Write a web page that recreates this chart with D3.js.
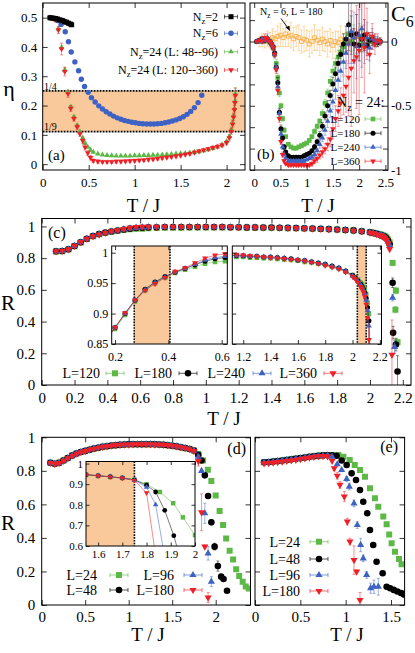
<!DOCTYPE html>
<html><head><meta charset="utf-8">
<script src="https://cdn.jsdelivr.net/npm/d3@7"></script>
<style>body{margin:0;background:#fff}</style>
</head><body><script>
// ---------------- DATA ----------------
// Panel (a): eta vs T/J
const aT2 = [0.08,0.1,0.12,0.14,0.16,0.18,0.2,0.22,0.24,0.26,0.28,0.3,0.315];
const aEta2 = [0.5,0.499,0.498,0.497,0.495,0.493,0.491,0.489,0.486,0.484,0.481,0.478,0.476];
const aT6 = [0.08,0.12,0.16,0.2,0.245,0.28,0.31,0.35,0.39,0.42,0.455,0.495,0.53,0.57,0.61,0.65,0.69,0.73,0.77,0.81,0.85,0.89,0.93,0.97,1.01,1.05,1.09,1.13,1.17,1.21,1.25,1.29,1.33,1.37,1.41,1.45,1.49,1.53,1.57,1.61,1.65,1.69,1.73];
const aEta6 = [0.5,0.497,0.49,0.477,0.452,0.418,0.383,0.349,0.319,0.29,0.265,0.245,0.227,0.212,0.199,0.188,0.179,0.171,0.164,0.158,0.153,0.149,0.146,0.143,0.141,0.139,0.138,0.137,0.137,0.137,0.138,0.139,0.141,0.144,0.147,0.151,0.156,0.162,0.17,0.18,0.193,0.21,0.235];
const aT24 = [0.08,0.13,0.17,0.205,0.24,0.275,0.305,0.34,0.375,0.405,0.435,0.46,0.49,0.52,0.55,0.6,0.65,0.7,0.75,0.8,0.85,0.9,0.95,1.0,1.05,1.1,1.15,1.2,1.25,1.3,1.35,1.4,1.45,1.5,1.55,1.6,1.65,1.7,1.75,1.8,1.85,1.9,1.95,2.0,2.03,2.05,2.065,2.075,2.085,2.09,2.095];
const aEtaG = [0.5,0.494,0.462,0.398,0.322,0.247,0.196,0.162,0.133,0.111,0.09,0.072,0.058,0.048,0.041,0.035,0.032,0.03,0.029,0.028,0.028,0.028,0.028,0.029,0.029,0.03,0.03,0.031,0.031,0.032,0.033,0.034,0.035,0.036,0.037,0.039,0.041,0.043,0.046,0.05,0.054,0.059,0.066,0.078,0.095,0.118,0.142,0.165,0.19,0.215,0.24];
const aErrG = [0.002,0.003,0.005,0.006,0.006,0.005,0.004,0.004,0.004,0.004,0.004,0.004,0.003,0.003,0.003,0.002,0.002,0.002,0.002,0.002,0.002,0.002,0.002,0.002,0.002,0.002,0.002,0.002,0.002,0.002,0.002,0.002,0.002,0.002,0.002,0.002,0.002,0.002,0.002,0.002,0.002,0.002,0.002,0.003,0.006,0.008,0.01,0.01,0.012,0.015,0.02];
const aEtaR = [0.5,0.494,0.458,0.393,0.316,0.24,0.19,0.155,0.127,0.103,0.08,0.058,0.038,0.022,0.012,0.009,0.008,0.008,0.008,0.009,0.009,0.01,0.011,0.012,0.013,0.014,0.016,0.017,0.019,0.021,0.023,0.025,0.027,0.03,0.033,0.036,0.04,0.044,0.048,0.052,0.056,0.06,0.065,0.073,0.09,0.112,0.136,0.16,0.185,0.21,0.235];
const aErrR = [0.003,0.005,0.012,0.02,0.015,0.012,0.01,0.008,0.008,0.008,0.01,0.01,0.008,0.008,0.006,0.006,0.005,0.005,0.005,0.005,0.005,0.005,0.005,0.005,0.005,0.005,0.005,0.005,0.005,0.005,0.005,0.005,0.005,0.005,0.005,0.005,0.005,0.005,0.005,0.005,0.006,0.006,0.006,0.007,0.008,0.01,0.012,0.012,0.015,0.02,0.025];
const aBand = [1/9, 1/4];

// Panel (b): C6 vs T/J
const bT = [0.05,0.1,0.15,0.2,0.25,0.3,0.33,0.36,0.39,0.42,0.45,0.48,0.51,0.54,0.57,0.6,0.65,0.7,0.75,0.8,0.85,0.9,0.95,1.0,1.05,1.1,1.15,1.2,1.25,1.3,1.35,1.4,1.45,1.5,1.55,1.6,1.65,1.7,1.75,1.8,1.85,1.9,1.95,2.0,2.05,2.1,2.15,2.2,2.25,2.3,2.35,2.4];
const bC120 = [0.0,0.01,0.0,0.02,0.01,-0.01,-0.02,-0.05,-0.1,-0.17,-0.28,-0.4,-0.5,-0.6,-0.69,-0.74,-0.8,-0.82,-0.83,-0.83,-0.82,-0.81,-0.8,-0.79,-0.77,-0.74,-0.7,-0.66,-0.62,-0.56,-0.48,-0.4,-0.31,-0.23,-0.17,-0.12,-0.08,-0.04,-0.01,0.06,0.0,0.03,-0.02,0.04,0.01,-0.02,0.02,0.0,0.01,-0.01,0.0,0.0];
const bE120 = [0.01,0.01,0.01,0.02,0.02,0.01,0.01,0.02,0.02,0.03,0.03,0.03,0.02,0.02,0.02,0.01,0.01,0.01,0.01,0.01,0.01,0.01,0.01,0.01,0.01,0.01,0.02,0.02,0.02,0.03,0.03,0.03,0.04,0.04,0.04,0.05,0.05,0.06,0.07,0.1,0.08,0.1,0.08,0.1,0.07,0.06,0.06,0.05,0.04,0.03,0.03,0.02];
const bC180 = [0.0,0.01,0.02,0.01,0.02,0.0,-0.02,-0.04,-0.09,-0.2,-0.32,-0.55,-0.68,-0.75,-0.82,-0.86,-0.89,-0.9,-0.9,-0.9,-0.9,-0.9,-0.89,-0.88,-0.87,-0.85,-0.82,-0.78,-0.73,-0.66,-0.58,-0.5,-0.42,-0.33,-0.25,-0.17,-0.1,-0.02,0.02,0.13,0.05,-0.02,0.06,-0.03,0.02,0.05,-0.03,0.01,0.02,0.0,-0.01,0.0];
const bE180 = [0.01,0.01,0.02,0.02,0.02,0.01,0.01,0.02,0.03,0.03,0.04,0.03,0.03,0.02,0.02,0.01,0.01,0.01,0.01,0.01,0.01,0.01,0.01,0.01,0.01,0.01,0.02,0.02,0.03,0.03,0.03,0.04,0.04,0.05,0.05,0.06,0.06,0.08,0.1,0.2,0.15,0.12,0.15,0.12,0.1,0.12,0.08,0.06,0.05,0.04,0.03,0.02];
const bC240 = [0.0,0.0,0.02,0.01,0.03,0.0,-0.02,-0.04,-0.1,-0.2,-0.35,-0.56,-0.72,-0.82,-0.88,-0.91,-0.93,-0.93,-0.93,-0.93,-0.93,-0.93,-0.93,-0.92,-0.91,-0.9,-0.88,-0.85,-0.8,-0.75,-0.69,-0.62,-0.54,-0.47,-0.38,-0.3,-0.23,-0.16,-0.09,-0.02,0.08,0.03,-0.04,0.05,0.1,-0.02,0.03,-0.05,0.02,0.01,0.0,0.0];
const bE240 = [0.01,0.01,0.02,0.02,0.03,0.01,0.01,0.02,0.03,0.03,0.04,0.03,0.03,0.02,0.02,0.01,0.01,0.01,0.01,0.01,0.01,0.01,0.01,0.01,0.01,0.02,0.02,0.02,0.03,0.03,0.04,0.05,0.05,0.06,0.07,0.08,0.08,0.1,0.12,0.15,0.25,0.2,0.25,0.2,0.3,0.15,0.12,0.1,0.08,0.05,0.04,0.03];
const bC360 = [0.0,0.01,0.0,0.03,0.02,0.0,-0.02,-0.05,-0.1,-0.22,-0.38,-0.6,-0.78,-0.88,-0.93,-0.95,-0.96,-0.96,-0.96,-0.96,-0.96,-0.96,-0.96,-0.96,-0.96,-0.95,-0.93,-0.91,-0.885,-0.86,-0.835,-0.8,-0.76,-0.68,-0.6,-0.54,-0.48,-0.42,-0.35,-0.28,-0.21,-0.15,-0.12,-0.07,0.02,-0.05,0.06,-0.1,0.04,-0.02,0.01,0.0];
const bE360 = [0.01,0.01,0.01,0.03,0.02,0.01,0.01,0.02,0.02,0.03,0.03,0.03,0.02,0.02,0.01,0.01,0.01,0.01,0.01,0.01,0.01,0.01,0.01,0.01,0.01,0.02,0.02,0.03,0.03,0.04,0.04,0.05,0.06,0.08,0.1,0.12,0.12,0.15,0.2,0.3,0.45,0.25,0.4,0.5,0.3,0.35,0.2,0.15,0.1,0.08,0.05,0.03];
const bT6 = [0.1,0.15,0.2,0.25,0.3,0.35,0.4,0.45,0.5,0.55,0.6,0.65,0.7,0.75,0.8,0.85,0.9,0.95,1.0,1.05,1.1,1.15,1.2,1.25,1.3,1.35,1.4,1.45,1.5,1.55,1.6,1.65,1.7,1.75];
const bC6 = [0.0,0.01,0.0,0.02,0.01,0.03,0.02,0.04,0.05,0.03,0.06,0.04,0.05,0.02,0.04,0.03,0.0,0.02,0.01,-0.02,0.0,0.03,0.01,-0.01,0.02,0.0,-0.02,0.01,-0.03,0.0,-0.01,0.02,-0.02,0.0];
const bE6 = [0.04,0.05,0.05,0.06,0.06,0.07,0.06,0.08,0.09,0.07,0.1,0.08,0.1,0.09,0.08,0.1,0.09,0.1,0.08,0.1,0.09,0.1,0.08,0.1,0.09,0.08,0.1,0.09,0.1,0.08,0.09,0.1,0.08,0.07];

// Panel (c): R vs T/J, Nz=24
const cT = [0.0875,0.125,0.1625,0.2,0.2375,0.275,0.3125,0.35,0.3875,0.425,0.4625,0.5,0.5375,0.575,0.6125,0.65,0.7,0.75,0.8,0.85,0.9,0.95,1.0,1.05,1.1,1.15,1.2,1.25,1.3,1.35,1.4,1.45,1.5,1.55,1.6,1.65,1.7,1.75,1.8,1.85,1.9,1.95,2.0,2.02,2.04,2.06,2.07,2.08,2.09,2.1,2.11,2.12];
const cR120 = [0.842,0.844,0.855,0.875,0.898,0.92,0.938,0.95,0.959,0.967,0.972,0.977,0.982,0.985,0.986,0.988,0.99,0.991,0.992,0.992,0.993,0.993,0.993,0.993,0.993,0.993,0.993,0.992,0.992,0.991,0.991,0.99,0.989,0.988,0.987,0.985,0.984,0.982,0.98,0.977,0.974,0.969,0.963,0.96,0.956,0.951,0.948,0.944,0.94,0.932,0.918,0.9];
const cR180 = [0.843,0.845,0.856,0.877,0.9,0.922,0.94,0.952,0.961,0.968,0.974,0.98,0.986,0.99,0.992,0.994,0.995,0.996,0.996,0.996,0.996,0.996,0.996,0.996,0.996,0.995,0.995,0.994,0.994,0.993,0.993,0.992,0.991,0.99,0.988,0.987,0.985,0.983,0.981,0.978,0.975,0.97,0.963,0.959,0.954,0.948,0.944,0.94,0.934,0.925,0.91,0.888];
const cR240 = [0.843,0.845,0.856,0.877,0.9,0.922,0.939,0.951,0.96,0.968,0.974,0.981,0.988,0.992,0.994,0.995,0.996,0.996,0.996,0.996,0.996,0.996,0.996,0.996,0.996,0.995,0.995,0.994,0.994,0.993,0.993,0.992,0.991,0.99,0.988,0.987,0.985,0.983,0.981,0.978,0.975,0.97,0.962,0.958,0.953,0.947,0.943,0.939,0.933,0.922,0.905,0.88];
const cR360 = [0.843,0.845,0.856,0.877,0.901,0.922,0.938,0.949,0.959,0.969,0.975,0.983,0.991,0.996,0.998,0.998,0.998,0.998,0.998,0.998,0.998,0.998,0.998,0.998,0.998,0.997,0.996,0.995,0.994,0.993,0.992,0.991,0.99,0.989,0.988,0.986,0.984,0.982,0.979,0.976,0.973,0.968,0.961,0.957,0.951,0.944,0.94,0.935,0.928,0.915,0.893,0.857];
const cTailT120 = [2.138,2.158,2.155,2.168], cTailR120 = [0.77,0.595,0.475,0.27], cTailE120 = [0.01,0.02,0.02,0.02];
const cTailT180 = [2.138,2.141,2.158,2.168], cTailR180 = [0.645,0.33,0.255,0.085], cTailE180 = [0.03,0.04,0.04,0.1];
const cTailT240 = [2.138,2.15], cTailR240 = [0.55,0.24], cTailE240 = [0.02,0.04];
const cTailT360 = [2.134], cTailR360 = [0.19], cTailE360 = [0.22];
const cBandL = [0.272, 0.406], cBandR = [2.035, 2.1];

// Panel (d): R vs T/J, Nz=6
const dT = [0.1,0.15,0.2,0.25,0.3,0.35,0.4,0.45,0.5,0.55,0.6,0.65,0.7,0.75,0.8,0.85,0.9,0.95,1.0,1.05,1.1,1.15,1.2,1.25,1.3,1.35,1.4,1.45,1.5,1.55,1.6,1.65,1.7,1.75];
const dR24 = [0.848,0.843,0.848,0.862,0.877,0.892,0.904,0.912,0.918,0.926,0.932,0.938,0.943,0.947,0.95,0.953,0.955,0.957,0.958,0.958,0.959,0.959,0.959,0.958,0.958,0.957,0.955,0.953,0.95,0.945,0.94,0.935,0.93,0.922];
const dR48 = [0.848,0.842,0.848,0.862,0.877,0.891,0.903,0.912,0.919,0.926,0.933,0.938,0.943,0.947,0.951,0.953,0.955,0.957,0.958,0.959,0.959,0.959,0.959,0.959,0.958,0.957,0.955,0.953,0.95,0.946,0.941,0.936,0.93,0.921];
const dR96 = [0.849,0.842,0.847,0.861,0.876,0.891,0.903,0.912,0.919,0.927,0.933,0.939,0.944,0.948,0.951,0.954,0.956,0.957,0.958,0.959,0.96,0.96,0.959,0.959,0.958,0.957,0.956,0.954,0.951,0.946,0.941,0.936,0.93,0.92];
const dR180 = [0.847,0.841,0.846,0.86,0.875,0.89,0.902,0.911,0.918,0.926,0.932,0.938,0.943,0.947,0.95,0.953,0.955,0.956,0.957,0.958,0.958,0.958,0.958,0.958,0.957,0.956,0.955,0.953,0.95,0.946,0.941,0.935,0.929,0.918];
const dTailT24 = [1.8,1.855,1.91,1.95,2.0,2.045,2.085,2.12,2.16,2.2,2.235,2.27,2.31,2.345,2.38], dTailR24 = [0.9,0.862,0.807,0.739,0.653,0.561,0.477,0.397,0.324,0.272,0.213,0.173,0.139,0.11,0.098];
const dTailT48 = [1.8,1.8375,1.875,1.9125,1.95,1.9875,2.025,2.0625,2.09,2.13], dTailR48 = [0.895,0.862,0.773,0.65,0.493,0.348,0.232,0.169,0.155,0.085], dTailE48 = [0.005,0.01,0.01,0.01,0.015,0.02,0.03,0.01,0.01,0.01];
const dTailT96 = [1.8,1.8375,1.875,1.9125,1.95], dTailR96 = [0.885,0.8,0.547,0.308,0.139], dTailE96 = [0.01,0.01,0.06,0.04,0.03];
const dTailT180 = [1.8,1.8375,1.875,1.9125], dTailR180 = [0.858,0.553,0.348,0.044], dTailE180 = [0.03,0.11,0.01,0.03];
const dBand = [1.55, 1.75];

// Panel (e): R vs T/J, Nz=2
const eT = [0.1,0.15,0.2,0.25,0.3,0.35,0.4,0.45,0.5,0.55,0.6,0.65,0.7,0.75,0.8,0.85];
const eR24 = [0.851,0.853,0.856,0.859,0.862,0.866,0.869,0.873,0.876,0.88,0.884,0.888,0.891,0.893,0.894,0.895];
const eR48 = [0.851,0.852,0.855,0.858,0.862,0.865,0.869,0.872,0.876,0.88,0.884,0.887,0.89,0.892,0.893,0.893];
const eR96 = [0.85,0.851,0.854,0.858,0.861,0.865,0.868,0.872,0.875,0.879,0.883,0.887,0.89,0.891,0.892,0.885];
const eR180 = [0.845,0.846,0.849,0.852,0.855,0.859,0.862,0.866,0.87,0.875,0.879,0.883,0.886,0.888,0.886,0.86];
const eTailT24 = [0.92,0.975,1.045,1.1,1.158,1.213,1.268,1.323,1.36,1.415,1.452,1.48,1.507,1.544,1.588,1.617], eTailR24 = [0.894,0.884,0.865,0.835,0.805,0.765,0.696,0.636,0.586,0.527,0.481,0.42,0.368,0.318,0.274,0.243];
const eTailT48 = [0.9,0.956,1.011,1.066,1.114,1.158,1.194,1.238,1.268,1.304,1.341,1.408,1.452,1.49,1.53,1.57,1.61,1.64], eTailR48 = [0.89,0.862,0.835,0.785,0.745,0.686,0.616,0.547,0.447,0.358,0.258,0.189,0.109,0.1,0.09,0.08,0.072,0.064], eTailE48 = [0,0,0,0,0,0,0,0,0,0,0,0,0.01,0.01,0.01,0.01,0.015,0.02];
const eTailT96 = [0.907,0.956,1.011,1.04,1.092,1.128,1.165,1.194,1.231,1.275,1.312,1.36], eTailR96 = [0.839,0.805,0.751,0.706,0.606,0.477,0.358,0.278,0.179,0.1,0.109,0.109], eTailE96 = [0.01,0.01,0.015,0.02,0.02,0.02,0.04,0.02,0.02,0.03,0.04,0.05];
const eTailT180 = [0.874,0.907,0.937,0.985,1.018,1.047,1.092,1.121,1.158], eTailR180 = [0.815,0.771,0.716,0.646,0.497,0.378,0.268,0.199,0.03], eTailE180 = [0.01,0.02,0.02,0.03,0.02,0.02,0.085,0.01,0.045];

// ---------------- DRAWING ----------------
const FONT = "'Liberation Serif','Times New Roman',Times,serif";
const COL = {green:"#5cb946", black:"#000000", blue:"#3d62c4", red:"#ee2026", orange:"#f7a738", band:"#fac99b"};
const svg = d3.select("body").append("svg").attr("width",415).attr("height",653)
  .attr("font-family",FONT);
svg.append("rect").attr("width",415).attr("height",653).attr("fill","#fff");

let clipN = 0;
function panel(x0,x1,y0,y1,xd,yd,bg){
  const sx = d3.scaleLinear().domain(xd).range([x0,x1]);
  const sy = d3.scaleLinear().domain(yd).range([y1,y0]);
  const id = "clip"+(clipN++);
  svg.append("clipPath").attr("id",id).append("rect").attr("x",x0).attr("y",y0).attr("width",x1-x0).attr("height",y1-y0);
  if(bg) svg.append("rect").attr("x",x0).attr("y",y0).attr("width",x1-x0).attr("height",y1-y0).attr("fill","#fff");
  const g = svg.append("g").attr("clip-path",`url(#${id})`);
  return {sx,sy,g,x0,x1,y0,y1};
}
function frame(p){
  svg.append("rect").attr("x",p.x0).attr("y",p.y0).attr("width",p.x1-p.x0).attr("height",p.y1-p.y0)
    .attr("fill","none").attr("stroke","#000").attr("stroke-width",1);
}
function axis(p, side, values, labeled, o={}){
  const len = o.len ?? 5;
  let ax = side==="bottom"?d3.axisBottom(p.sx):side==="top"?d3.axisTop(p.sx):side==="left"?d3.axisLeft(p.sy):d3.axisRight(p.sy);
  ax.tickValues(values).tickSizeInner(-len).tickSizeOuter(0).tickPadding(o.pad ?? 4)
    .tickFormat(labeled ? (d=>String(+d.toFixed(4))) : "");
  const tr = side==="bottom"?`translate(0,${p.y1})`:side==="top"?`translate(0,${p.y0})`:side==="left"?`translate(${p.x0},0)`:`translate(${p.x1},0)`;
  const g = svg.append("g").attr("transform",tr).call(ax);
  g.select(".domain").remove();
  g.attr("font-family",FONT).attr("font-size",o.fs||13);
  g.selectAll("line").attr("stroke","#000").attr("stroke-width",0.8);
  g.selectAll("text").attr("fill","#000");
  return g;
}
function symType(t){ return t==="ci"?d3.symbolCircle:(t==="tu"||t==="td")?d3.symbolTriangle:d3.symbolSquare; }
function series(p, xs, ys, type, color, size, errs, o={}){
  const g = p.g.append("g");
  const data = xs.map((x,i)=>({x, y:ys[i], e: errs?(errs[i]||0):0})).filter(d=>d.y!==undefined);
  if(o.line){
    g.append("path").datum(data).attr("d",d3.line().x(d=>p.sx(d.x)).y(d=>p.sy(d.y)))
      .attr("fill","none").attr("stroke",color).attr("stroke-width",0.7).attr("opacity",0.75);
  }
  const cw = o.cap ?? 1.5;
  g.selectAll(null).data(data.filter(d=>d.e>0)).join("path")
    .attr("d",d=>{const x=p.sx(d.x),y1=p.sy(d.y-d.e),y2=p.sy(d.y+d.e);
      return `M${x},${y1}V${y2}M${x-cw},${y1}H${x+cw}M${x-cw},${y2}H${x+cw}`;})
    .attr("stroke",color).attr("stroke-width",0.7).attr("fill","none").attr("opacity",o.eop ?? 0.7);
  const sym = d3.symbol().type(symType(type)).size(size);
  g.selectAll(null).data(data).join("path").attr("d",sym)
    .attr("transform",d=>`translate(${p.sx(d.x)},${p.sy(d.y)})`+(type==="td"?" rotate(180)":""))
    .attr("fill",o.open?"none":color).attr("stroke",o.open?color:"none").attr("stroke-width",o.open?0.8:0);
}
function rich(x,y,segs,fs,anchor){
  const t = svg.append("text").attr("x",x).attr("y",y).attr("font-size",fs)
    .attr("text-anchor",anchor||"start").attr("fill","#000");
  let sub=false;
  segs.forEach(s=>{
    const ts = t.append("tspan").text(s[0]);
    if(s[1] && !sub){ ts.attr("dy",fs*0.25).attr("font-size",fs*0.72); sub=true; }
    else if(!s[1] && sub){ ts.attr("dy",-fs*0.25); sub=false; }
  });
  return t;
}
function keySample(x,y,half,type,color,size){
  svg.append("path").attr("d",`M${x-half},${y}H${x+half}M${x-half},${y-2}V${y+2}M${x+half},${y-2}V${y+2}`)
    .attr("stroke",color).attr("stroke-width",0.8).attr("fill","none").attr("opacity",0.8);
  svg.append("path").attr("d",d3.symbol().type(symType(type)).size(size))
    .attr("transform",`translate(${x},${y})`+(type==="td"?" rotate(180)":"")).attr("fill",color);
}
function band(p, x0, x1, y0, y1){
  p.g.append("rect").attr("x",p.sx(x0)).attr("width",p.sx(x1)-p.sx(x0))
    .attr("y",p.sy(y1)).attr("height",p.sy(y0)-p.sy(y1)).attr("fill",COL.band);
}
function dotV(p, x){
  p.g.append("line").attr("x1",p.sx(x)).attr("x2",p.sx(x)).attr("y1",p.y0).attr("y2",p.y1)
    .attr("stroke","#000").attr("stroke-width",1.6).attr("stroke-dasharray","1.6,1.2");
}
function dotH(p, y){
  p.g.append("line").attr("x1",p.x0).attr("x2",p.x1).attr("y1",p.sy(y)).attr("y2",p.sy(y))
    .attr("stroke","#000").attr("stroke-width",1.8).attr("stroke-dasharray","1.8,1.2");
}
function title(x,y,txt,fs){
  return svg.append("text").attr("x",x).attr("y",y).attr("font-size",fs).attr("text-anchor","middle").attr("fill","#000").text(txt);
}

// ===== Panel (a) =====
const pa = panel(42.7,245,3,170,[0,2.2],[-0.02,0.55]);
pa.g.append("rect").attr("x",pa.x0).attr("width",pa.x1-pa.x0).attr("y",pa.sy(aBand[1])).attr("height",pa.sy(aBand[0])-pa.sy(aBand[1])).attr("fill",COL.band);
dotH(pa,aBand[1]); dotH(pa,aBand[0]);
series(pa,aT6,aEta6,"ci",COL.blue,23);
series(pa,aT24,aEtaG,"tu",COL.green,14,aErrG);
series(pa,aT24,aEtaR,"td",COL.red,14,aErrR);
series(pa,aT2,aEta2,"sq",COL.black,25);
frame(pa);
axis(pa,"bottom",[0,0.5,1,1.5,2],true,{pad:8,fs:13});
axis(pa,"top",[0,0.5,1,1.5,2],false);
axis(pa,"left",[0,0.1,0.2,0.3,0.4,0.5],true,{pad:5.5,fs:13});
axis(pa,"right",[0,0.1,0.2,0.3,0.4,0.5],false);
svg.append("text").attr("x",44).attr("y",89.5).attr("font-size",10).text("1/4");
svg.append("text").attr("x",44).attr("y",129.5).attr("font-size",10).text("1/9");
svg.append("text").attr("x",48).attr("y",160).attr("font-size",15).text("(a)");
title(9,96,"η",22);
title(143.5,211.5,"T / J",19);
const aKey = [
  {segs:[["N"],["z",1],["=2"]], y:16.7, t:"sq", c:COL.black, s:25},
  {segs:[["N"],["z",1],["=6"]], y:33.3, t:"ci", c:COL.blue, s:23},
  {segs:[["N"],["z",1],["=24 (L: 48--96)"]], y:51.7, t:"tu", c:COL.green, s:14},
  {segs:[["N"],["z",1],["=24 (L: 120--360)"]], y:70, t:"td", c:COL.red, s:14}];
aKey.forEach(k=>{ rich(218,k.y+4,k.segs,12,"end"); keySample(231,k.y,6.5,k.t,k.c,k.s); });

// ===== Panel (b) =====
const pb = panel(250,388,3,170,[-0.08,2.55],[-1,0.3]);
series(pb,bT6,bC6,"sq",COL.orange,14,bE6,{open:true,eop:0.6});
series(pb,bT,bC120,"sq",COL.green,22,bE120,{eop:0.6});
series(pb,bT,bC180,"ci",COL.black,20,bE180,{eop:0.6});
series(pb,bT,bC240,"tu",COL.blue,14,bE240,{eop:0.6});
series(pb,bT,bC360,"td",COL.red,14,bE360,{eop:0.6});
frame(pb);
const bYt = [-1,-5/6,-4/6,-0.5,-2/6,-1/6,0,1/6];
axis(pb,"bottom",[0,0.5,1,1.5,2,2.5],true,{pad:8,fs:13});
axis(pb,"top",[0,0.5,1,1.5,2,2.5],false);
axis(pb,"left",bYt,false);
axis(pb,"right",bYt,false);
axis(pb,"right",[0,-0.5,-1],true,{pad:3,fs:13,len:0});
rich(391,21,[["C"],["6",1]],22,"start");
rich(260,15,[["N"],["z",1],[" = 6, L = 180"]],10,"start");
svg.append("path").attr("d","M281,18.5L288.3,28.6").attr("stroke","#000").attr("stroke-width",0.9);
svg.append("path").attr("d","M290,31L285.6,27.6L289.4,25.7Z").attr("fill","#000");
svg.append("text").attr("x",257).attr("y",159).attr("font-size",15).text("(b)");
title(318,211.5,"T / J",19);
rich(337,107,[["N"],["z",1],[" = 24:"]],14,"start");
const bKey = [
  {l:"L=120", y:119, t:"sq", c:COL.green, s:22},
  {l:"L=180", y:133.2, t:"ci", c:COL.black, s:20},
  {l:"L=240", y:147.2, t:"tu", c:COL.blue, s:14},
  {l:"L=360", y:161.2, t:"td", c:COL.red, s:14}];
bKey.forEach(k=>{ svg.append("text").attr("x",360).attr("y",k.y+4).attr("font-size",11).attr("text-anchor","end").text(k.l); keySample(373,k.y,8,k.t,k.c,k.s); });

// ===== Panel (c) =====
const pc = panel(41.7,411,218.5,385,[0,2.25],[0,1.05]);
const cSeries = [
  {R:cR120, tT:cTailT120, tR:cTailR120, tE:cTailE120, t:"sq", c:COL.green, s:36},
  {R:cR180, tT:cTailT180, tR:cTailR180, tE:cTailE180, t:"ci", c:COL.black, s:34},
  {R:cR240, tT:cTailT240, tR:cTailR240, tE:cTailE240, t:"tu", c:COL.blue, s:22},
  {R:cR360, tT:cTailT360, tR:cTailR360, tE:cTailE360, t:"td", c:COL.red, s:22}];
cSeries.forEach(s=>{
  series(pc, cT.concat(s.tT), s.R.concat(s.tR), s.t, s.c, s.s, cT.map(()=>0).concat(s.tE));
});
frame(pc);
const cXt = [0,0.2,0.4,0.6,0.8,1,1.2,1.4,1.6,1.8,2,2.2], cYt=[0,0.2,0.4,0.6,0.8,1];
axis(pc,"bottom",cXt,true,{pad:7,fs:15});
axis(pc,"top",cXt,false);
axis(pc,"left",cYt,true,{pad:6.5,fs:15});
axis(pc,"right",cYt,false);
svg.append("text").attr("x",48).attr("y",237.5).attr("font-size",16).text("(c)");
title(8,310,"R",21);
title(224,424.5,"T / J",19);
// insets of (c)
const pcL = panel(111.7,227.3,246,344,[0.1875,0.621],[0.85,1.011],true);
band(pcL,cBandL[0],cBandL[1],0.85,1.011);
dotV(pcL,cBandL[0]); dotV(pcL,cBandL[1]);
const pcR = panel(232.3,381.5,246,344,[1.12,2.212],[0.85,1.011],true);
band(pcR,cBandR[0],cBandR[1],0.85,1.011);
dotV(pcR,cBandR[0]); dotV(pcR,cBandR[1]);
cSeries.forEach(s=>{
  const xs = cT.concat(s.tT), ys = s.R.concat(s.tR);
  const sz = s.t==="sq"?22:s.t==="ci"?20:15;
  series(pcL, xs, ys, s.t, s.c, sz, null, {line:true});
  series(pcR, xs, ys, s.t, s.c, sz, null, {line:true});
});
frame(pcL); frame(pcR);
const insY = [0.85,0.9,0.95,1];
axis(pcL,"bottom",[0.2,0.4,0.6],true,{pad:8,fs:12,len:4});
axis(pcL,"top",[0.2,0.4,0.6],false,{len:4});
axis(pcL,"left",insY,true,{pad:3.5,fs:12,len:4});
axis(pcL,"right",insY,false,{len:4});
axis(pcR,"bottom",[1.2,1.4,1.6,1.8,2,2.2],true,{pad:8,fs:12,len:4});
axis(pcR,"top",[1.2,1.4,1.6,1.8,2,2.2],false,{len:4});
axis(pcR,"left",insY,false,{len:4});
axis(pcR,"right",insY,false,{len:4});
const cKey = [
  {l:"L=120", x:100, m:115, t:"sq", c:COL.green, s:36},
  {l:"L=180", x:172, m:188, t:"ci", c:COL.black, s:34},
  {l:"L=240", x:245, m:262, t:"tu", c:COL.blue, s:22},
  {l:"L=360", x:317, m:333, t:"td", c:COL.red, s:22}];
cKey.forEach(k=>{ svg.append("text").attr("x",k.x).attr("y",378.3).attr("font-size",14).attr("text-anchor","end").text(k.l); keySample(k.m,373.3,9,k.t,k.c,k.s); });

// ===== Panel (d) =====
const pd = panel(41.7,250.5,437.3,605,[0,2.4],[0,1]);
const dSeries = [
  {R:dR24, tT:dTailT24, tR:dTailR24, tE:null, t:"sq", c:COL.green, s:36},
  {R:dR48, tT:dTailT48, tR:dTailR48, tE:dTailE48, t:"ci", c:COL.black, s:34},
  {R:dR96, tT:dTailT96, tR:dTailR96, tE:dTailE96, t:"tu", c:COL.blue, s:22},
  {R:dR180, tT:dTailT180, tR:dTailR180, tE:dTailE180, t:"td", c:COL.red, s:22}];
dSeries.forEach(s=>{
  series(pd, dT.concat(s.tT), s.R.concat(s.tR), s.t, s.c, s.s, s.tE? dT.map(()=>0).concat(s.tE): null);
});
frame(pd);
const dXt=[0,0.5,1,1.5,2], dYt=[0,0.2,0.4,0.6,0.8,1];
axis(pd,"bottom",dXt,true,{pad:6.5,fs:15});
axis(pd,"top",dXt,false);
axis(pd,"left",dYt,true,{pad:6.5,fs:15});
axis(pd,"right",dYt,false);
svg.append("text").attr("x",246).attr("y",454).attr("font-size",16).attr("text-anchor","end").text("(d)");
title(8,530,"R",21);
title(148,641,"T / J",19);
const pdI = panel(86,195,461.5,546,[1.55,2.0],[0.6,1.01],true);
band(pdI,dBand[0],dBand[1],0.6,1.01);
dotV(pdI,dBand[1]);
dSeries.forEach(s=>{
  const sz = s.t==="sq"?20:s.t==="ci"?18:13;
  series(pdI, dT.concat(s.tT), s.R.concat(s.tR), s.t, s.c, sz, null, {line:true});
});
frame(pdI);
axis(pdI,"bottom",[1.6,1.7,1.8,1.9,2],true,{pad:4,fs:11,len:3.5});
axis(pdI,"top",[1.6,1.7,1.8,1.9,2],false,{len:3.5});
axis(pdI,"left",[0.6,0.7,0.8,0.9,1],true,{pad:3,fs:11,len:3.5});
axis(pdI,"right",[0.6,0.7,0.8,0.9,1],false,{len:3.5});
const dKey = [
  {l:"L=24", x:97, m:119, y:575, t:"sq", c:COL.green, s:36},
  {l:"L=48", x:97, m:119, y:590, t:"ci", c:COL.black, s:34},
  {l:"L=96", x:174, m:193, y:575, t:"tu", c:COL.blue, s:22},
  {l:"L=180", x:174, m:193, y:590, t:"td", c:COL.red, s:22}];
dKey.forEach(k=>{ svg.append("text").attr("x",k.x).attr("y",k.y+5).attr("font-size",14).attr("text-anchor","end").text(k.l); keySample(k.m,k.y,9,k.t,k.c,k.s); });

// ===== Panel (e) =====
const pe = panel(255,404.6,437.3,605,[0,1.65],[0,1]);
const eSeries = [
  {R:eR24, tT:eTailT24, tR:eTailR24, tE:null, t:"sq", c:COL.green, s:36},
  {R:eR48, tT:eTailT48, tR:eTailR48, tE:eTailE48, t:"ci", c:COL.black, s:34},
  {R:eR96, tT:eTailT96, tR:eTailR96, tE:eTailE96, t:"tu", c:COL.blue, s:22},
  {R:eR180, tT:eTailT180, tR:eTailR180, tE:eTailE180, t:"td", c:COL.red, s:22}];
eSeries.forEach(s=>{
  series(pe, eT.concat(s.tT), s.R.concat(s.tR), s.t, s.c, s.s, s.tE? eT.map(()=>0).concat(s.tE): null);
});
frame(pe);
const eXt=[0,0.5,1,1.5];
axis(pe,"bottom",eXt,true,{pad:6.5,fs:15});
axis(pe,"top",eXt,false);
axis(pe,"left",dYt,false);
axis(pe,"right",dYt,false);
svg.append("text").attr("x",398).attr("y",452).attr("font-size",16).attr("text-anchor","end").text("(e)");
title(347,641,"T / J",19);
const eKey = [
  {l:"L=24", y:541.7, t:"sq", c:COL.green, s:36},
  {l:"L=48", y:559, t:"ci", c:COL.black, s:34},
  {l:"L=96", y:575, t:"tu", c:COL.blue, s:22},
  {l:"L=180", y:591, t:"td", c:COL.red, s:22}];
eKey.forEach(k=>{ svg.append("text").attr("x",300).attr("y",k.y+5).attr("font-size",14).attr("text-anchor","end").text(k.l); keySample(319,k.y,9,k.t,k.c,k.s); });
</script></body></html>
